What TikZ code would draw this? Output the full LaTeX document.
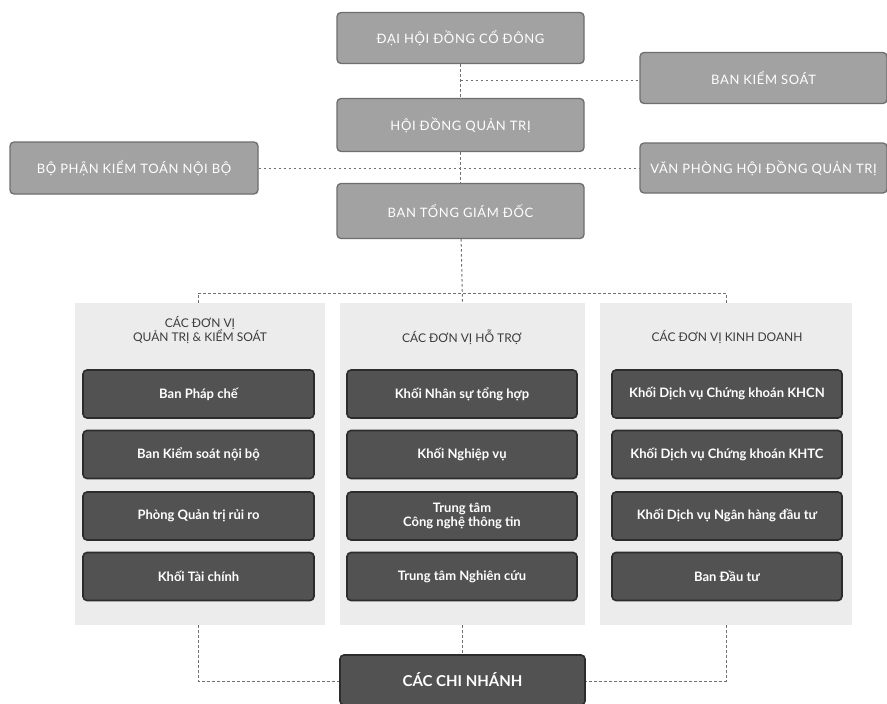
\documentclass[tikz,border=0pt]{standalone}
\usepackage{fontspec}
\setmainfont{Lato}
\newfontfamily\capfont[LetterSpace=5]{Lato}
\begin{document}
\begin{tikzpicture}[x=1pt,y=-1pt,
  topbox/.style={draw=topedge,fill=topfill,rounded corners=4pt,line width=1.3pt,
    minimum width=247pt,minimum height=51pt,text=white,inner sep=0pt,
    font=\capfont\fontsize{13}{15}\selectfont},
  darkbox/.style={draw=darkedge,fill=darkfill,rounded corners=4pt,line width=1.6pt,
    minimum width=230pt,minimum height=48pt,text=white,inner sep=0pt,align=center,
    font=\bfseries\fontsize{13}{14}\selectfont},
  panel/.style={fill=panelfill,draw=none,minimum height=322pt,inner sep=0pt},
  header/.style={text=headtext,align=center,inner sep=0pt,font=\fontsize{12}{14.5}\selectfont},
  link/.style={draw=linkcol,line width=1pt,dash pattern=on 2.5pt off 2.5pt}]
\definecolor{topfill}{HTML}{A2A2A2}
\definecolor{topedge}{HTML}{6E6E6E}
\definecolor{darkfill}{HTML}{525252}
\definecolor{darkedge}{HTML}{2C2C2C}
\definecolor{panelfill}{HTML}{ECECEC}
\definecolor{headtext}{HTML}{3C3C3C}
\definecolor{linkcol}{HTML}{707070}
\useasboundingbox (0,0) rectangle (887,704);
\fill[white] (0,0) rectangle (887,704);

% column panels
\node[panel,minimum width=250pt] (panelL) at (200,464) {};
\node[panel,minimum width=245pt] (panelM) at (462.5,464) {};
\node[panel,minimum width=252pt] (panelR) at (726,464) {};

% top boxes
\node[topbox] (dh) at (460.5,38) {ĐẠI HỘI ĐỒNG CỔ ĐÔNG};
\node[topbox,minimum height=53pt] (hd) at (460.5,125) {HỘI ĐỒNG QUẢN TRỊ};
\node[topbox,minimum height=55pt] (tgd) at (460.5,211) {BAN TỔNG GIÁM ĐỐC};
\node[topbox] (bks) at (763.5,78) {BAN KIỂM SOÁT};
\node[topbox,minimum height=50pt] (vp) at (763.5,168) {VĂN PHÒNG HỘI ĐỒNG QUẢN TRỊ};
\node[topbox,minimum width=248pt,minimum height=52pt] (kt) at (134,168) {BỘ PHẬN KIỂM TOÁN NỘI BỘ};

% headers
\node[header] (hL) at (200,330) {CÁC ĐƠN VỊ\\QUẢN TRỊ \& KIỂM SOÁT};
\node[header] (hM) at (462,337) {CÁC ĐƠN VỊ HỖ TRỢ};
\node[header] (hR) at (727,337) {CÁC ĐƠN VỊ KINH DOANH};

% dark boxes
\node[darkbox,minimum width=231pt] (l1) at (198.5,394) {Ban Pháp chế};
\node[darkbox,minimum width=231pt] (l2) at (198.5,454.5) {Ban Kiểm soát nội bộ};
\node[darkbox,minimum width=231pt] (l3) at (198.5,516) {Phòng Quản trị rủi ro};
\node[darkbox,minimum width=231pt] (l4) at (198.5,576.5) {Khối Tài chính};
\node[darkbox] (m1) at (462,394) {Khối Nhân sự tổng hợp};
\node[darkbox] (m2) at (462,454.5) {Khối Nghiệp vụ};
\node[darkbox,font=\bfseries\fontsize{13}{14}\selectfont] (m3) at (462,516) {Trung tâm\\Công nghệ thông tin};
\node[darkbox] (m4) at (462,576.5) {Trung tâm Nghiên cứu};
\node[darkbox] (r1) at (727,394) {Khối Dịch vụ Chứng khoán KHCN};
\node[darkbox] (r2) at (727,454.5) {Khối Dịch vụ Chứng khoán KHTC};
\node[darkbox] (r3) at (727,516) {Khối Dịch vụ Ngân hàng đầu tư};
\node[darkbox] (r4) at (727,576.5) {Ban Đầu tư};

% bottom box
\node[darkbox,minimum width=245pt,minimum height=50pt,font=\bfseries\fontsize{15}{17}\selectfont] (cn) at (462.5,680) {CÁC CHI NHÁNH};

% connectors
\coordinate (j1) at (460.5,80);
\coordinate (bl) at (198,293);
\coordinate (br) at (726,293);
\coordinate (ll) at (198,681);
\coordinate (lr) at (726,681);
\draw[link] (dh) -- (hd);
\draw[link] (hd) -- (tgd);
\draw[link] (j1) -- (j1 -| bks.west);
\draw[link] (kt) -- (vp);
\draw[link] (tgd) -- (panelM.north);
\draw[link] (bl |- panelL.north) -- (bl) -- (br) -- (br |- panelR.north);
\draw[link] (panelM.south) -- (cn);
\draw[link] (ll |- panelL.south) -- (ll) -- (cn.west |- ll);
\draw[link] (lr |- panelR.south) -- (lr) -- (cn.east |- lr);
\end{tikzpicture}
\end{document}
